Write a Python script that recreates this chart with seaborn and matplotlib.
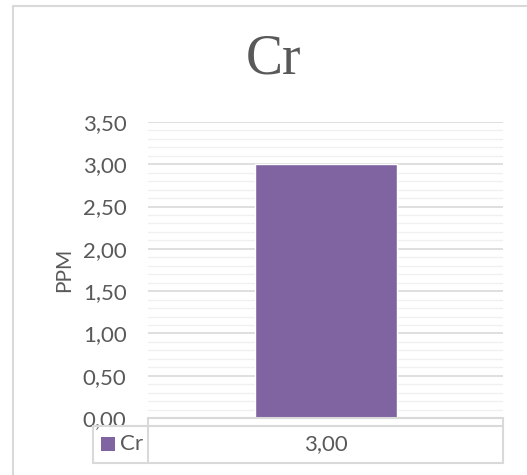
import matplotlib
matplotlib.use("Agg")
import matplotlib.pyplot as plt
from matplotlib.lines import Line2D
from matplotlib.patches import Rectangle
import seaborn as sns
import pandas as pd
import numpy as np

# Chart values
categories = ["Cr"]
series_name = "Cr"
values = [3.00]
y_ticks = [0.0, 0.5, 1.0, 1.5, 2.0, 2.5, 3.0, 3.5]

BAR_COLOR = "#8064A2"
TEXT = "#595959"
GRID_MAJOR = "#d9d9d9"
GRID_MINOR = "#f0f0f0"

sns.set_theme(style="white")
plt.rcParams["font.family"] = ["Lato", "DejaVu Sans"]

W, H = 527, 475
fig = plt.figure(figsize=(W / 100, H / 100), dpi=100)
fig.patch.set_facecolor("white")

def fx(px):
    return px / W

def fy(py):
    return 1 - py / H

# plot area
left, right, top, bottom = 148, 503, 122, 418
ax = fig.add_axes([fx(left), fy(bottom), fx(right - left), fy(top) - fy(bottom)])

df = pd.DataFrame({"cat": categories, "val": values})
sns.barplot(data=df, x="cat", y="val", color=BAR_COLOR, width=0.4,
            saturation=1, ax=ax, zorder=3)
ax.set_xlim(-0.5, 0.5)
ax.set_ylim(0, 3.5)

# gridlines: major every 0.5, minor every 0.1
for v in np.arange(0.1, 3.5 + 1e-9, 0.1):
    is_major = abs(v / 0.5 - round(v / 0.5)) < 1e-6
    ax.axhline(v, color=GRID_MAJOR if is_major else GRID_MINOR,
               lw=1.2 if is_major else 1.0, zorder=1)

ax.set_yticks(y_ticks)
ax.set_yticklabels([f"{t:.2f}".replace(".", ",") for t in y_ticks],
                   color=TEXT, fontsize=16)
ax.tick_params(axis="y", length=0, pad=15.5)
ax.set_xticks([])
ax.set_xlabel("")
ax.set_ylabel("PPM", color=TEXT, fontsize=15, labelpad=6)
for s in ax.spines.values():
    s.set_visible(False)

# title
fig.text(fx(274), fy(60), "Cr", ha="center", va="center",
         fontsize=40, color=TEXT, family=["Liberation Serif", "DejaVu Serif"])

# chart frame (left and top edges)
fig.add_artist(Line2D([fx(13), fx(13)], [fy(6), fy(480)], color=GRID_MAJOR, lw=1.5))
fig.add_artist(Line2D([fx(13), fx(530)], [fy(6), fy(6)], color=GRID_MAJOR, lw=1.5))

# data table under the plot area
tbl_left, key_div, tbl_right = 93, 148, 503
row0_top, row1_top, row1_bot = 418, 426, 463
lc = GRID_MAJOR
lw = 1.5
segs = [
    ([fx(key_div), fx(tbl_right)], [fy(row0_top), fy(row0_top)]),
    ([fx(tbl_left), fx(tbl_right)], [fy(row1_top), fy(row1_top)]),
    ([fx(tbl_left), fx(tbl_right)], [fy(row1_bot), fy(row1_bot)]),
    ([fx(tbl_left), fx(tbl_left)], [fy(row1_top), fy(row1_bot)]),
    ([fx(key_div), fx(key_div)], [fy(row0_top), fy(row1_bot)]),
    ([fx(tbl_right), fx(tbl_right)], [fy(row0_top), fy(row1_bot)]),
]
for xs, ys in segs:
    fig.add_artist(Line2D(xs, ys, color=lc, lw=lw))

# legend key in the table
fig.add_artist(Rectangle((fx(101), fy(451)), fx(14), fy(437) - fy(451),
                         facecolor=BAR_COLOR, edgecolor="none"))
fig.text(fx(120), fy(444), series_name, ha="left", va="center",
         fontsize=16, color=TEXT)
fig.text(fx((key_div + tbl_right) / 2), fy(444),
         f"{values[0]:.2f}".replace(".", ","), ha="center", va="center",
         fontsize=16, color=TEXT)

fig.savefig("out.png", dpi=100, facecolor="white")
